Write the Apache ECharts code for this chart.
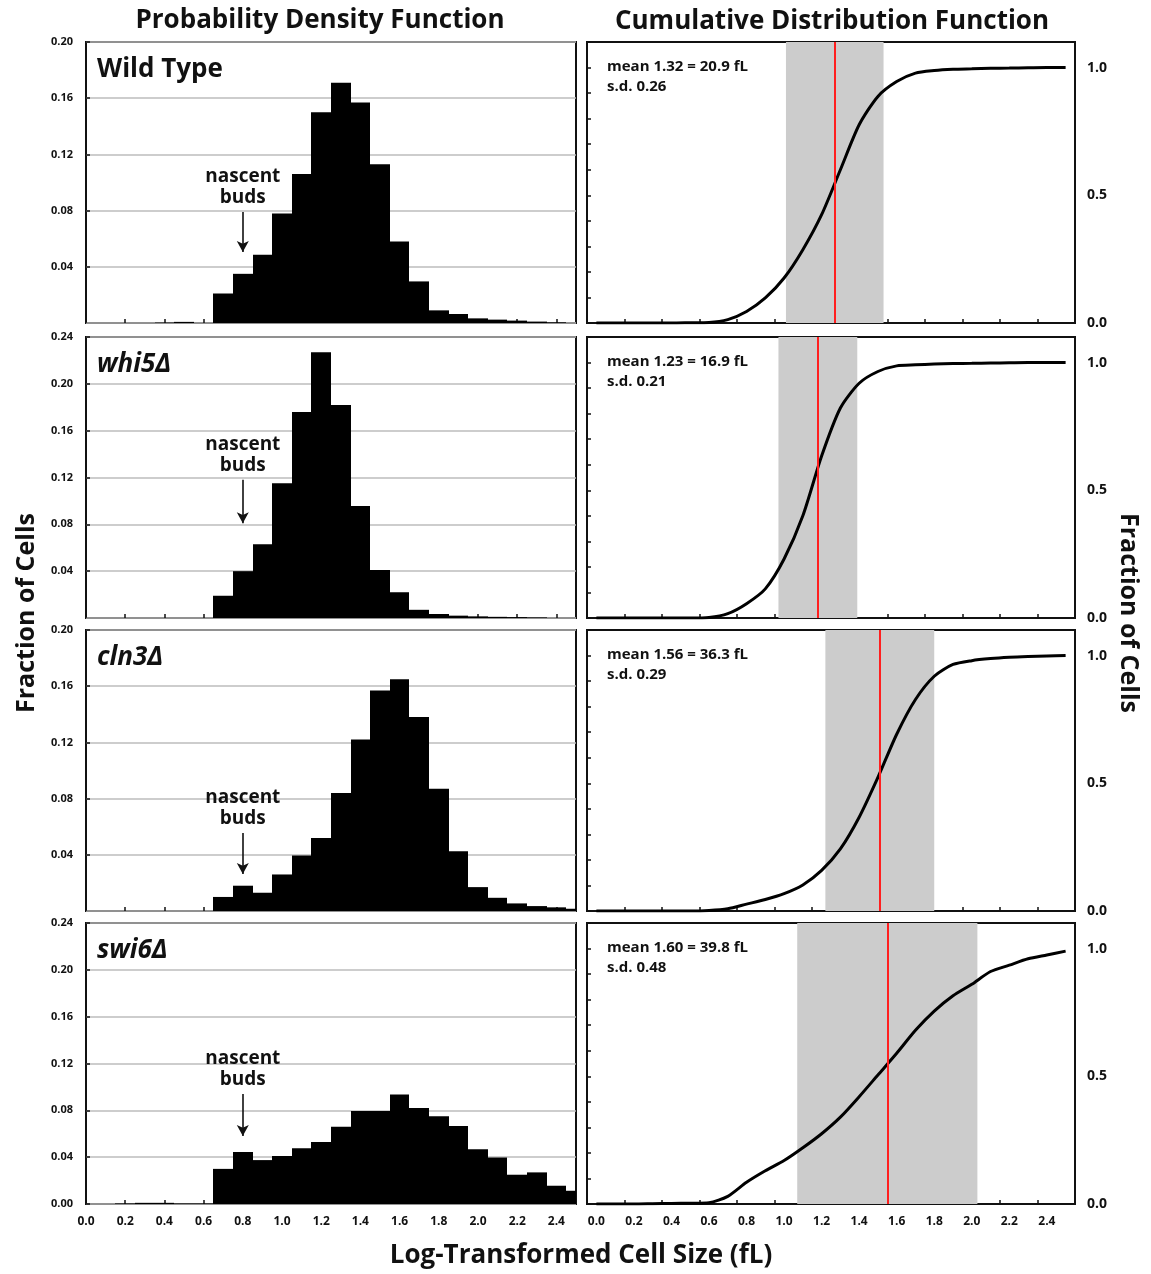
<!DOCTYPE html>
<html>
<head>
<meta charset="utf-8">
<title>Cell size distributions</title>
<script src="https://cdn.jsdelivr.net/npm/echarts@6.0.0/dist/echarts.min.js"></script>
<style>
  html, body { margin: 0; padding: 0; background: #fff; }
  #chart { width: 1151px; height: 1274px; }
</style>
</head>
<body>
<div id="chart"></div>
<script>
// histogram bin centres, log-transformed cell size (bins are 0.1 wide)
const sizeBins = [0.0, 0.1, 0.2, 0.3, 0.4, 0.5, 0.6, 0.7, 0.8, 0.9, 1.0, 1.1, 1.2,
  1.3, 1.4, 1.5, 1.6, 1.7, 1.8, 1.9, 2.0, 2.1, 2.2, 2.3, 2.4, 2.5]
const xTickLabels = ['0.0', '0.2', '0.4', '0.6', '0.8', '1.0', '1.2', '1.4', '1.6', '1.8', '2.0', '2.2', '2.4']
const cdfTickLabels = ['0.0', '0.5', '1.0']
const strainNames = ['Wild Type', 'whi5Δ', 'cln3Δ', 'swi6Δ']

// fraction of cells per bin (left column)
const pdfWildType = [0, 0, 0, 0, 0.0003, 0.0008, 0, 0.021, 0.035, 0.0485, 0.078, 0.106, 0.150,
  0.171, 0.157, 0.113, 0.058, 0.0296, 0.009, 0.0064, 0.0033, 0.0024, 0.0017, 0.001, 0.0005, 0]
const pdfWhi5 = [0, 0, 0, 0, 0, 0, 0, 0.019, 0.040, 0.063, 0.115, 0.176, 0.227,
  0.182, 0.0956, 0.041, 0.022, 0.007, 0.0034, 0.002, 0.0014, 0.001, 0.0008, 0.0005, 0, 0]
const pdfCln3 = [0, 0, 0, 0, 0, 0, 0, 0.010, 0.018, 0.013, 0.026, 0.0395, 0.052,
  0.084, 0.122, 0.157, 0.165, 0.138, 0.087, 0.0426, 0.017, 0.0094, 0.0054, 0.0035, 0.0026, 0.0016]
const pdfSwi6 = [0, 0, 0.0005, 0.001, 0.001, 0.0005, 0.0005, 0.030, 0.0445, 0.0375, 0.041, 0.0477, 0.053,
  0.066, 0.0794, 0.0794, 0.0936, 0.082, 0.075, 0.0667, 0.0468, 0.0397, 0.025, 0.027, 0.0156, 0.0113]

// cumulative fraction through each bin (right column)
const cdfWildType = [0, 0, 0, 0, 0, 0.001, 0.002, 0.013, 0.045, 0.098, 0.176, 0.287, 0.424,
  0.600, 0.776, 0.887, 0.945, 0.978, 0.988, 0.993, 0.995, 0.997, 0.998, 0.999, 1.0, 1.0]
const cdfWhi5 = [0, 0, 0, 0, 0, 0, 0.002, 0.017, 0.056, 0.114, 0.231, 0.400, 0.634,
  0.822, 0.919, 0.965, 0.987, 0.991, 0.994, 0.996, 0.997, 0.998, 0.999, 1.0, 1.0, 1.0]
const cdfCln3 = [0, 0, 0, 0, 0, 0, 0.002, 0.009, 0.027, 0.045, 0.068, 0.102, 0.159,
  0.243, 0.367, 0.523, 0.692, 0.828, 0.919, 0.965, 0.980, 0.988, 0.993, 0.996, 0.998, 1.0]
const cdfSwi6 = [0, 0, 0, 0.001, 0.002, 0.003, 0.005, 0.030, 0.085, 0.130, 0.170, 0.220, 0.275,
  0.340, 0.420, 0.505, 0.590, 0.680, 0.755, 0.815, 0.860, 0.910, 0.935, 0.960, 0.975, 0.990]

// summary stats per strain
const meanLog = [1.32, 1.23, 1.56, 1.60]
const meanFl = ['20.9', '16.9', '36.3', '39.8']
const sdLog = [0.26, 0.21, 0.29, 0.48]
const pdfAxisMax = [0.20, 0.24, 0.20, 0.24]

// "nascent buds" arrow: x, start and tip (fraction of cells)
const budsX = 0.8
const budsArrowFrom = [0.079, 0.118, 0.0555, 0.094]
const budsArrowTo = [0.0505, 0.081, 0.0263, 0.0581]

const pdfs = [pdfWildType, pdfWhi5, pdfCln3, pdfSwi6]
const cdfs = [cdfWildType, cdfWhi5, cdfCln3, cdfSwi6]

const FONT = '"Open Sans", "DejaVu Sans", sans-serif'
const INK = '#111'
const rowTops = [42, 337, 630, 923]
const rowH = 281
const BIN_HALF = 0.05

// one histogram bin as a rect, snapped to whole pixels so neighbours touch
function renderBin (params, api) {
  const x = api.value(0)
  const y = api.value(1)
  if (!y) return
  const p0 = api.coord([x - BIN_HALF, y])
  const p1 = api.coord([x + BIN_HALF, 0])
  const x0 = Math.round(p0[0])
  const x1 = Math.round(p1[0])
  const cs = params.coordSys
  const shape = echarts.graphic.clipRectByRect(
    { x: x0, y: p0[1], width: x1 - x0, height: p1[1] - p0[1] },
    { x: cs.x, y: cs.y, width: cs.width, height: cs.height })
  return shape && {
    type: 'rect',
    shape: shape,
    style: { fill: '#000' }
  }
}

const grid = []
const xAxis = []
const yAxis = []
const series = []
const graphic = []

const tickStyle = { show: true, inside: true, length: 4, lineStyle: { color: INK, width: 1.5 } }
const boxStyle = { show: true, borderColor: INK, borderWidth: 2, backgroundColor: '#fff' }

rowTops.forEach((top, i) => {
  const last = i === rowTops.length - 1

  // left: probability density
  grid.push(Object.assign({ left: 86, top: top, width: 490, height: rowH, outerBoundsMode: 'none' }, boxStyle))
  // right: cumulative distribution
  grid.push(Object.assign({ left: 587, top: top, width: 488, height: rowH, outerBoundsMode: 'none' }, boxStyle))

  xAxis.push({
    type: 'value', gridIndex: 2 * i, min: 0, max: 2.5,
    axisLine: { show: false },
    splitLine: { show: false },
    axisTick: Object.assign({ customValues: xTickLabels.map(Number) }, tickStyle),
    axisLabel: {
      show: last, customValues: xTickLabels.map(Number), margin: 12,
      formatter: v => v.toFixed(1),
      fontFamily: FONT, fontSize: 12, fontWeight: 'bold', color: INK
    }
  })
  // CDF x axis: curve points sit at the upper bin edge, labels at bin centres
  xAxis.push({
    type: 'value', gridIndex: 2 * i + 1, min: 0, max: 2.6,
    axisLine: { show: false },
    splitLine: { show: false },
    axisTick: Object.assign({ customValues: xTickLabels.map(Number) }, tickStyle),
    axisLabel: {
      show: last, customValues: xTickLabels.map(t => Number(t) + BIN_HALF), margin: 12,
      formatter: v => (v - BIN_HALF).toFixed(1),
      fontFamily: FONT, fontSize: 12, fontWeight: 'bold', color: INK
    }
  })

  yAxis.push({
    type: 'value', gridIndex: 2 * i, min: 0, max: pdfAxisMax[i], interval: 0.04,
    axisLine: { show: false },
    axisTick: tickStyle,
    splitLine: { show: true, lineStyle: { color: '#bdbdbd', width: 1.5 } },
    axisLabel: {
      showMinLabel: last, margin: 13,
      formatter: v => v.toFixed(2),
      fontFamily: FONT, fontSize: 11, fontWeight: 'bold', color: INK
    }
  })
  yAxis.push({
    type: 'value', gridIndex: 2 * i + 1, position: 'left', min: 0, max: 1.1, interval: 0.1,
    axisLine: { show: false },
    axisTick: tickStyle,
    splitLine: { show: false },
    axisLabel: { show: false }
  })
  yAxis.push({
    type: 'value', gridIndex: 2 * i + 1, position: 'right', min: 0, max: 1.1,
    axisLine: { show: false },
    axisTick: { show: false },
    splitLine: { show: false },
    axisLabel: {
      customValues: cdfTickLabels.map(Number), margin: 12,
      formatter: v => v.toFixed(1),
      fontFamily: FONT, fontSize: 14, fontWeight: 'bold', color: INK
    }
  })

  series.push({
    type: 'custom',
    name: strainNames[i] + ' PDF',
    xAxisIndex: 2 * i,
    yAxisIndex: 3 * i,
    renderItem: renderBin,
    data: sizeBins.map((x, j) => [x, pdfs[i][j]]),
    silent: true,
    markLine: {
      silent: true,
      animation: false,
      symbol: ['none', 'arrow'],
      symbolSize: [9, 11],
      lineStyle: { color: INK, width: 1.6, type: 'solid' },
      label: {
        show: true, position: 'start', distance: 4,
        formatter: 'nascent\nbuds',
        fontFamily: FONT, fontSize: 19, fontWeight: 'bold', color: INK, lineHeight: 21
      },
      data: [[
        { coord: [budsX, budsArrowFrom[i]] },
        { coord: [budsX, budsArrowTo[i]] }
      ]]
    }
  })

  series.push({
    type: 'line',
    name: strainNames[i] + ' CDF',
    xAxisIndex: 2 * i + 1,
    yAxisIndex: 3 * i + 1,
    data: sizeBins.map((x, j) => [x + BIN_HALF, cdfs[i][j]]),
    showSymbol: false,
    smooth: 0.25,
    silent: true,
    lineStyle: { color: '#000', width: 3 },
    z: 3,
    markArea: {
      silent: true,
      itemStyle: { color: '#cccccc' },
      data: [[{ xAxis: meanLog[i] - sdLog[i] }, { xAxis: meanLog[i] + sdLog[i] }]]
    },
    markLine: {
      silent: true,
      animation: false,
      symbol: 'none',
      label: { show: false },
      lineStyle: { color: '#ff1f1f', width: 2, type: 'solid' },
      data: [{ xAxis: meanLog[i] }]
    }
  })

  // strain name, top-left of PDF panel
  graphic.push({
    type: 'text', left: 97, top: top + 15,
    style: {
      text: strainNames[i], fill: INK,
      font: (i ? 'italic ' : '') + 'bold 26px ' + FONT
    }
  })
  // mean / sd, top-left of CDF panel
  graphic.push({
    type: 'text', left: 607, top: top + 15,
    style: {
      text: 'mean ' + meanLog[i].toFixed(2) + ' = ' + meanFl[i] + ' fL\ns.d. ' + sdLog[i].toFixed(2),
      fill: INK, font: 'bold 15px ' + FONT, lineHeight: 20
    }
  })
})

graphic.push(
  { type: 'text', x: 320, y: 21, style: { text: 'Probability Density Function', fill: INK, font: 'bold 26px ' + FONT, align: 'center', verticalAlign: 'middle' } },
  { type: 'text', x: 832, y: 22, style: { text: 'Cumulative Distribution Function', fill: INK, font: 'bold 26px ' + FONT, align: 'center', verticalAlign: 'middle' } },
  { type: 'text', x: 581, y: 1256, style: { text: 'Log-Transformed Cell Size (fL)', fill: INK, font: 'bold 26px ' + FONT, align: 'center', verticalAlign: 'middle' } },
  { type: 'text', x: 27, y: 613, rotation: Math.PI / 2, style: { text: 'Fraction of Cells', fill: INK, font: 'bold 25px ' + FONT, align: 'center', verticalAlign: 'middle' } },
  { type: 'text', x: 1128, y: 613, rotation: -Math.PI / 2, style: { text: 'Fraction of Cells', fill: INK, font: 'bold 25px ' + FONT, align: 'center', verticalAlign: 'middle' } }
)

const myChart = echarts.init(document.getElementById('chart'), null, { renderer: 'canvas' })
myChart.setOption({
  animation: false,
  backgroundColor: '#fff',
  grid: grid,
  xAxis: xAxis,
  yAxis: yAxis,
  series: series,
  graphic: graphic
})
</script>
</body>
</html>
